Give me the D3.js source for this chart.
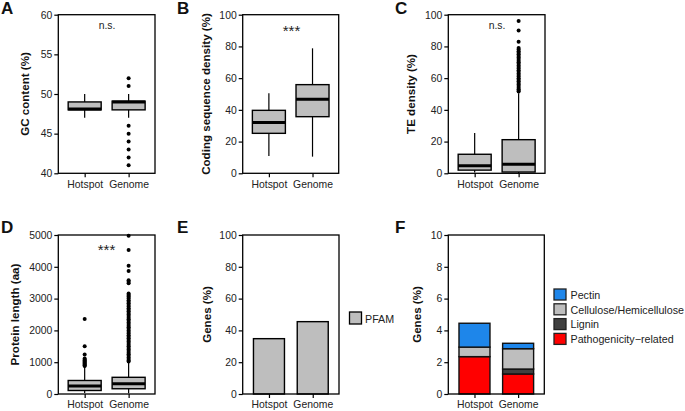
<!DOCTYPE html>
<html><head><meta charset="utf-8">
<script src="https://cdn.jsdelivr.net/npm/d3@7"></script>
<style>body{margin:0;background:#fff}svg{display:block}text{font-family:"Liberation Sans",Arial,sans-serif}</style>
</head><body>
<script>
// ---------- DATA ----------
const categories = ["Hotspot", "Genome"];

// Panel A: GC content (%)
const gcStats = [ // [low, q1, median, q3, high]
  [47, 48, 48.1, 49, 50],
  [47, 48, 49, 49.1, 50]
];
const gcOutliers = [[], [52, 51, 46, 45, 44, 43, 42, 41]];
const gcTicks = [40, 45, 50, 55, 60];

// Panel B: Coding sequence density (%)
const cdsStats = [
  [10.9, 25.2, 32.1, 39.7, 50.4],
  [10.5, 35.7, 46.7, 55.9, 78.8]
];
const cdsOutliers = [[], []];
const pctTicks = [0, 20, 40, 60, 80, 100];

// Panel C: TE density (%)
const teStats = [
  [0.5, 2, 4.8, 12, 25.4],
  [0, 0.8, 5.7, 21.2, 50.4]
];
const teOutliers = [[], [96, 90, 83, 79, 78, 77, 76, 75, 74, 73, 72, 71, 70, 69, 68, 67, 66, 65, 64, 63, 62, 61, 60, 59, 58, 57, 56, 55, 54, 53, 52, 51.5]];

// Panel D: Protein length (aa)
const protStats = [
  [30, 110, 255, 425, 850],
  [20, 165, 325, 525, 1000]
];
const protOutliers = [
  [2360, 1500, 1240, 1120, 1080, 1050, 1020, 990, 960, 930, 900, 880],
  [4980, 4530, 4030, 3870, 3580, 3530, 3480, 3160, 3120, 3080, 3050, 3000, 2950, 2900, 2850, 2800, 2750, 2700, 2650, 2600, 2550, 2500, 2450, 2400, 2350, 2300, 2250, 2200, 2150, 2100, 2050, 2000, 1950, 1900, 1850, 1800, 1750, 1700, 1650, 1600, 1550, 1500, 1450, 1400, 1350, 1300, 1250, 1200, 1150, 1100, 1050, 1020]
];
const protTicks = [0, 1000, 2000, 3000, 4000, 5000];

// Panel E: PFAM genes (%)
const pfamValues = [34.8, 45.5];

// Panel F: stacked gene categories (%)
const fSeries = ["Pathogenicity\u2212related", "Lignin", "Cellulose/Hemicellulose", "Pectin"];
const fValues = { // per category, in stacking order (bottom to top)
  "Pathogenicity\u2212related": [2.35, 1.26],
  "Lignin": [0, 0.31],
  "Cellulose/Hemicellulose": [0.6, 1.28],
  "Pectin": [1.5, 0.34]
};
const fColors = ["#ff0000", "#404040", "#bebebe", "#1e86ea"];
const fLegendOrder = ["Pectin", "Cellulose/Hemicellulose", "Lignin", "Pathogenicity\u2212related"];
const fTicks = [0, 2, 4, 6, 8, 10];

// ---------- DRAW ----------
const W = 685, H = 411;
const svg = d3.select("body").append("svg").attr("width", W).attr("height", H);
const TICK_FS = "10.4px", TITLE_FS = "11.6px";

function frame(p) {
  const g = svg.append("g");
  const y = d3.scaleLinear().domain(p.domain).range([p.y1, p.y0]);
  const x = d3.scalePoint().domain(categories).range([p.x0, p.x1]).padding(0.6);
  const ya = g.append("g").attr("transform", `translate(${p.x0},0)`)
    .call(d3.axisLeft(y).tickValues(p.ticks).tickSize(4).tickPadding(2).tickFormat(d3.format("d")));
  ya.select(".domain").remove();
  ya.selectAll("line").attr("stroke", "#000").attr("stroke-width", 1.2);
  ya.selectAll("text").attr("font-size", TICK_FS).attr("fill", "#222").attr("font-family", "Liberation Sans, Arial, sans-serif");
  const xa = g.append("g").attr("transform", `translate(0,${p.y1})`)
    .call(d3.axisBottom(x).tickSize(4).tickPadding(3));
  xa.select(".domain").remove();
  xa.selectAll("line").attr("stroke", "#000").attr("stroke-width", 1.2);
  xa.selectAll("text").attr("font-size", TICK_FS).attr("fill", "#222").attr("font-family", "Liberation Sans, Arial, sans-serif");
  g.append("text").attr("transform", `translate(${p.tx},${(p.y0 + p.y1) / 2}) rotate(-90)`)
    .attr("text-anchor", "middle").attr("dominant-baseline", "central")
    .attr("font-size", TITLE_FS).attr("font-weight", "bold").attr("fill", "#111").text(p.title);
  g.append("text").attr("x", p.lx).attr("y", p.ly).attr("font-size", "17px").attr("font-weight", "bold")
    .attr("fill", "#111").text(p.letter);
  return {g, x, y};
}
function border(p) {
  svg.append("rect").attr("x", p.x0).attr("y", p.y0).attr("width", p.x1 - p.x0).attr("height", p.y1 - p.y0)
    .attr("fill", "none").attr("stroke", "#000").attr("stroke-width", 1.3);
}
function boxplot(p, stats, outliers, sig) {
  const {g, x, y} = frame(p);
  const bw = 33;
  categories.forEach((c, i) => {
    const [lo, q1, md, q3, hi] = stats[i];
    const cx = x(c);
    g.append("line").attr("x1", cx).attr("x2", cx).attr("y1", y(lo)).attr("y2", y(hi)).attr("stroke", "#000").attr("stroke-width", 1.2);
    g.append("rect").attr("x", cx - bw / 2).attr("width", bw).attr("y", y(q3)).attr("height", y(q1) - y(q3))
      .attr("fill", "#bebebe").attr("stroke", "#000").attr("stroke-width", 1.4);
    g.append("line").attr("x1", cx - bw / 2).attr("x2", cx + bw / 2).attr("y1", y(md)).attr("y2", y(md)).attr("stroke", "#000").attr("stroke-width", 3);
    g.selectAll(null).data(outliers[i]).enter().append("circle")
      .attr("cx", cx).attr("cy", d => y(d)).attr("r", 2).attr("fill", "#000");
  });
  border(p);
  g.append("text").attr("x", sig.x).attr("y", sig.y).attr("text-anchor", "middle")
    .attr("font-size", sig.t === "***" ? "15px" : "10.4px").attr("fill", "#222").text(sig.t);
}

boxplot({x0: 58.3, x1: 155, y0: 14.7, y1: 173.3, domain: [40, 60], ticks: gcTicks, title: "GC content (%)", tx: 24, letter: "A", lx: 1, ly: 14},
  gcStats, gcOutliers, {x: 107, y: 29, t: "n.s."});
boxplot({x0: 242.7, x1: 338.7, y0: 14.7, y1: 173.3, domain: [0, 100], ticks: pctTicks, title: "Coding sequence density (%)", tx: 205, letter: "B", lx: 177, ly: 14},
  cdsStats, cdsOutliers, {x: 291.5, y: 35.5, t: "***"});
boxplot({x0: 448.3, x1: 545, y0: 14.7, y1: 173.3, domain: [0, 100], ticks: pctTicks, title: "TE density (%)", tx: 410, letter: "C", lx: 395, ly: 14},
  teStats, teOutliers, {x: 497, y: 29, t: "n.s."});
boxplot({x0: 58.3, x1: 155, y0: 235, y1: 394, domain: [0, 5000], ticks: protTicks, title: "Protein length (aa)", tx: 14, letter: "D", lx: 1, ly: 233},
  protStats, protOutliers, {x: 106.5, y: 255, t: "***"});

// Panel E
(function () {
  const p = {x0: 242.7, x1: 339, y0: 235, y1: 394, domain: [0, 100], ticks: pctTicks, title: "Genes (%)", tx: 206, letter: "E", lx: 177, ly: 233};
  const {g, x, y} = frame(p);
  const bw = 31;
  g.selectAll(null).data(categories).enter().append("rect")
    .attr("x", c => x(c) - bw / 2).attr("width", bw)
    .attr("y", (c, i) => y(pfamValues[i])).attr("height", (c, i) => y(0) - y(pfamValues[i]))
    .attr("fill", "#bebebe").attr("stroke", "#000").attr("stroke-width", 1.4);
  border(p);
  const lg = svg.append("g").attr("transform", "translate(349.5,312)");
  lg.append("rect").attr("width", 12).attr("height", 12).attr("fill", "#bebebe").attr("stroke", "#000").attr("stroke-width", 1.3);
  lg.append("text").attr("x", 15.5).attr("y", 10.5).attr("font-size", "10.7px").attr("fill", "#222").text("PFAM");
})();

// Panel F
(function () {
  const p = {x0: 448.3, x1: 544.3, y0: 235, y1: 394, domain: [0, 10], ticks: fTicks, title: "Genes (%)", tx: 416, letter: "F", lx: 395, ly: 233};
  const {g, x, y} = frame(p);
  const bw = 31;
  const rows = categories.map((c, i) => { const o = {cat: c}; fSeries.forEach(s => o[s] = fValues[s][i]); return o; });
  const stack = d3.stack().keys(fSeries)(rows);
  const color = d3.scaleOrdinal().domain(fSeries).range(fColors);
  stack.forEach(layer => {
    g.selectAll(null).data(layer.filter(d => d[1] - d[0] > 0)).enter().append("rect")
      .attr("x", d => x(d.data.cat) - bw / 2).attr("width", bw)
      .attr("y", d => y(d[1])).attr("height", d => y(d[0]) - y(d[1]))
      .attr("fill", color(layer.key)).attr("stroke", "#111").attr("stroke-width", 1.4);
  });
  border(p);
  const lg = svg.append("g").attr("transform", "translate(554,289)");
  fLegendOrder.forEach((s, i) => {
    const r = lg.append("g").attr("transform", `translate(0,${i * 14.8})`);
    r.append("rect").attr("width", 12).attr("height", 11).attr("fill", color(s)).attr("stroke", "#222").attr("stroke-width", 1.3);
    r.append("text").attr("x", 16.5).attr("y", 9.8).attr("font-size", "10.7px").attr("fill", "#222").text(s);
  });
})();
</script>
</body></html>
